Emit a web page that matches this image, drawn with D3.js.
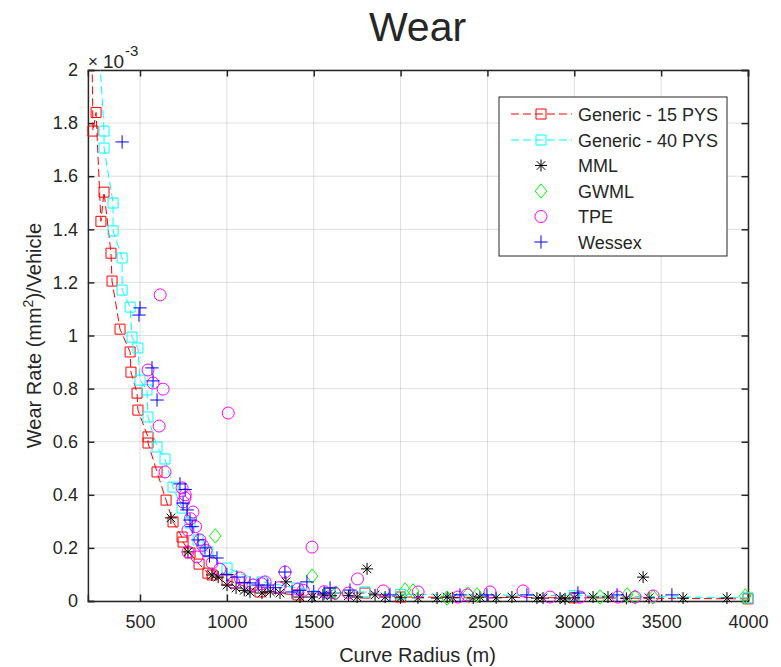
<!DOCTYPE html>
<html><head><meta charset="utf-8">
<script src="https://cdn.jsdelivr.net/npm/d3@7"></script>
<style>body{margin:0;background:#fff}svg{display:block}text{font-family:"Liberation Sans",Arial,Helvetica,sans-serif;fill:#262626}</style>
</head><body><div id="chart"></div>
<script>
// Wear rate values in units of 1e-3 mm^2 per vehicle
const gen15R = [215,224,229,247,275,293,333,339,385,443,448,483,488,546,546,598,650,690,742,748,788,840,891,915,1001,1191,1410,1594,1795,2000,3000,4000];
const gen15W = [2.30,2.05,1.77,1.84,1.43,1.54,1.31,1.205,1.024,0.938,0.862,0.783,0.719,0.618,0.595,0.486,0.380,0.298,0.241,0.222,0.181,0.139,0.105,0.098,0.079,0.034,0.023,0.030,0.030,0.015,0.012,0.008];
const gen40R = [258,268,293,293,345,345,397,397,443,454,488,500,540,546,598,644,690,742,788,834,891,1001,1202,1404,1594,1795,2000,3000,4000];
const gen40W = [2.30,2.05,1.77,1.706,1.499,1.394,1.292,1.171,1.107,0.994,0.953,0.832,0.795,0.693,0.580,0.535,0.429,0.350,0.294,0.230,0.185,0.124,0.072,0.049,0.030,0.034,0.025,0.020,0.012];
const mmlR = [678,776,914,950,1001,1053,1100,1133,1202,1250,1306,1340,1421,1490,1553,1600,1700,1750,1807,1853,1911,2000,2100,2210,2268,2300,2418,2457,2550,2641,2785,2820,2918,2947,3000,3108,3194,3300,3396,3430,3626,3879];
const mmlW = [0.313,0.185,0.098,0.090,0.060,0.049,0.040,0.034,0.030,0.035,0.030,0.072,0.015,0.015,0.023,0.020,0.020,0.015,0.121,0.023,0.015,0.012,0.012,0.011,0.015,0.012,0.011,0.015,0.012,0.015,0.011,0.011,0.011,0.008,0.012,0.015,0.015,0.010,0.090,0.012,0.011,0.011];
const gwmlR = [933,1491,1629,2026,2072,2268,2389,2441,3149,3304,3350,3454,3984];
const gwmlW = [0.245,0.094,0.030,0.041,0.038,0.011,0.026,0.023,0.015,0.023,0.015,0.015,0.019];
const tpeR = [616,546,575,633,610,1008,644,742,759,748,760,805,790,776,820,845,860,776,828,880,915,960,1040,1076,1150,1200,1220,1300,1335,1490,1410,1440,1560,1620,1700,1752,1900,2101,2331,2383,2515,2705,2860,3033,3252,3350,3454];
const tpeW = [1.153,0.870,0.821,0.798,0.659,0.708,0.486,0.426,0.388,0.373,0.400,0.335,0.310,0.267,0.280,0.230,0.210,0.185,0.166,0.190,0.143,0.120,0.070,0.087,0.060,0.065,0.072,0.050,0.109,0.203,0.045,0.040,0.035,0.030,0.030,0.083,0.038,0.034,0.015,0.023,0.034,0.038,0.015,0.015,0.015,0.015,0.019];
const wessexR = [397,500,494,569,575,598,730,748,760,771,788,800,834,874,900,943,1000,1058,1100,1133,1180,1236,1280,1334,1375,1420,1461,1500,1560,1594,1709,1939,2342,2497,2727,3021,3246,3562];
const wessexW = [1.729,1.104,1.077,0.878,0.829,0.757,0.441,0.369,0.420,0.343,0.305,0.280,0.230,0.200,0.170,0.162,0.100,0.090,0.070,0.068,0.060,0.060,0.050,0.109,0.034,0.040,0.072,0.035,0.030,0.049,0.041,0.023,0.023,0.023,0.023,0.030,0.023,0.023];
const xTicks = [500,1000,1500,2000,2500,3000,3500,4000];
const yTicks = [0,0.2,0.4,0.6,0.8,1,1.2,1.4,1.6,1.8,2];
const seriesNames = ["Generic - 15 PYS","Generic - 40 PYS","MML","GWML","TPE","Wessex"];

const W = 781, H = 667;
const svg = d3.select("#chart").append("svg").attr("width", W).attr("height", H);
const x = d3.scaleLinear().domain([200, 4000]).range([87.9, 748]);
const y = d3.scaleLinear().domain([0, 2]).range([601, 70]);
const ink = "#262626";

// grid
const g = svg.append("g");
g.selectAll(".gx").data(xTicks).join("line").attr("x1", d => x(d)).attr("x2", d => x(d)).attr("y1", y(0)).attr("y2", y(2)).attr("stroke", ink).attr("stroke-opacity", 0.15);
g.selectAll(".gy").data(yTicks).join("line").attr("y1", d => y(d)).attr("y2", d => y(d)).attr("x1", x(200)).attr("x2", x(4000)).attr("stroke", ink).attr("stroke-opacity", 0.15);

// axes
const axB = svg.append("g").attr("transform", `translate(0,${y(0)})`).call(d3.axisBottom(x).tickValues(xTicks).tickSize(-6.5).tickPadding(14).tickFormat(d3.format("d")));
const axT = svg.append("g").attr("transform", `translate(0,${y(2)})`).call(d3.axisTop(x).tickValues(xTicks).tickSize(-6.5).tickFormat(""));
const axL = svg.append("g").attr("transform", `translate(${x(200)},0)`).call(d3.axisLeft(y).tickValues(yTicks).tickSize(-6.5).tickPadding(10).tickFormat(d => d3.format("~g")(d)));
const axR = svg.append("g").attr("transform", `translate(${x(4000)},0)`).call(d3.axisRight(y).tickValues(yTicks).tickSize(-6.5).tickFormat(""));
[axB, axT, axL, axR].forEach(a => {
  a.select(".domain").attr("stroke", ink).attr("stroke-width", 1.5);
  a.selectAll(".tick line").attr("stroke", ink).attr("stroke-width", 1.5);
  a.selectAll("text").attr("font-size", 18).attr("fill", ink).attr("font-family", '"Liberation Sans",Arial,sans-serif');
});
axB.selectAll(".tick text").attr("dy", "0.71em");

// clip
svg.append("clipPath").attr("id", "clip").append("rect").attr("x", x(200)).attr("y", y(2)).attr("width", x(4000) - x(200)).attr("height", y(0) - y(2));

// marker shapes
function marker(sel, type, color) {
  sel.attr("fill", "none").attr("stroke", color).attr("stroke-width", 1);
  if (type === "square") sel.attr("d", "M-5,-5H5V5H-5Z");
  else if (type === "circle") sel.attr("d", "M6,0A6,6 0 1,1 -6,0A6,6 0 1,1 6,0Z");
  else if (type === "diamond") sel.attr("d", "M0,-7.2L5.8,0L0,7.2L-5.8,0Z");
  else if (type === "plus") sel.attr("d", "M-6.7,0H6.7M0,-6.7V6.7");
  else if (type === "star") sel.attr("d", "M-6,0H6M0,-6V6M-4.3,-4.3L4.3,4.3M-4.3,4.3L4.3,-4.3");
}

const series = [
  {R: gen15R, W: gen15W, color: "#ff0000", m: "square", line: true},
  {R: gen40R, W: gen40W, color: "#00ffff", m: "square", line: true},
  {R: mmlR, W: mmlW, color: "#000000", m: "star"},
  {R: gwmlR, W: gwmlW, color: "#00ff00", m: "diamond"},
  {R: tpeR, W: tpeW, color: "#ff00ff", m: "circle"},
  {R: wessexR, W: wessexW, color: "#0000ff", m: "plus"}
];

series.forEach(s => {
  const pts = s.R.map((r, i) => [r, s.W[i]]);
  if (s.line) {
    svg.append("path").attr("clip-path", "url(#clip)").datum(pts)
      .attr("d", d3.line().x(d => x(d[0])).y(d => y(d[1])))
      .attr("fill", "none").attr("stroke", s.color).attr("stroke-width", 1).attr("stroke-dasharray", "8,4");
  }
  svg.append("g").selectAll("path").data(pts.filter(d => d[1] <= 2 && d[0] >= 200 && d[0] <= 4000)).join("path")
    .attr("transform", d => `translate(${x(d[0])},${y(d[1])})`)
    .each(function() { marker(d3.select(this), s.m, s.color); });
});

// exponent label
svg.append("text").attr("x", 88).attr("y", 67).attr("font-size", 17).text("×");
svg.append("text").attr("x", 103).attr("y", 68).attr("font-size", 19).text("10");
svg.append("text").attr("x", 125).attr("y", 56).attr("font-size", 15).text("-3");

// title & labels
svg.append("text").attr("x", 417.5).attr("y", 41).attr("text-anchor", "middle").attr("font-size", 41).attr("fill", "#000").text("Wear");
svg.append("text").attr("x", 417.5).attr("y", 662).attr("text-anchor", "middle").attr("font-size", 20).text("Curve Radius (m)");
const yl = svg.append("text").attr("transform", "translate(41,335.5) rotate(-90)").attr("text-anchor", "middle").attr("font-size", 20);
yl.append("tspan").text("Wear Rate (mm");
yl.append("tspan").attr("dy", -8).attr("font-size", 14).text("2");
yl.append("tspan").attr("dy", 8).text(")/Vehicle");

// legend
const lg = svg.append("g");
lg.append("rect").attr("x", 499).attr("y", 97).attr("width", 228).attr("height", 159).attr("fill", "#fff").attr("stroke", ink).attr("stroke-width", 1);
const rowY = [114, 140, 165.5, 191, 216.5, 242];
series.forEach((s, i) => {
  const yy = rowY[i];
  if (s.line) lg.append("line").attr("x1", 511).attr("x2", 572).attr("y1", yy).attr("y2", yy).attr("stroke", s.color).attr("stroke-width", 1).attr("stroke-dasharray", "8,4");
  lg.append("path").attr("transform", `translate(541,${yy})`).each(function() { marker(d3.select(this), s.m, s.color); });
  lg.append("text").attr("x", 578).attr("y", yy + 6.5).attr("font-size", 18).attr("fill", "#000").text(seriesNames[i]);
});
</script></body></html>
